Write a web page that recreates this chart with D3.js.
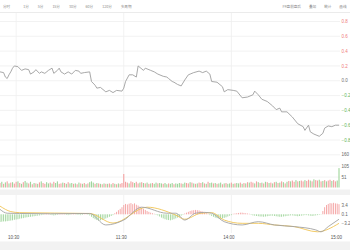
<!DOCTYPE html>
<html>
<head>
<meta charset="utf-8">
<script src="https://cdn.jsdelivr.net/npm/d3@7/dist/d3.min.js"></script>
<style>
  html, body { margin: 0; padding: 0; background: #fff; overflow: hidden; }
  svg { display: block; font-family: "Liberation Sans", "Noto Sans CJK SC", sans-serif; }
</style>
</head>
<body>
<svg id="chart" width="350" height="250"></svg>
<script>
// toolbar texts
const periodTabs = ['分时', '1分', '5分', '15分', '30分', '60分', '120分', '多周期'];
const toolLinks  = ['F9盘前盘后', '叠加', '统计', '画线'];

// minutes counted from 09:30 (11:30 and 13:00 share minute 120)
const timeTicks  = [60, 120, 180, 240];
const timeLabels = ['10:30', '11:30', '14:00', '15:00'];

// price line, % change against previous close
const priceMinutes = [51, 53, 54, 55, 56, 57, 58, 59, 61, 63, 65, 67, 68, 70, 71, 73, 74, 76, 78, 80, 81, 83, 84, 85, 87, 89, 91, 93, 95, 96, 98, 101,
                      102, 104, 105, 107, 110, 112, 114, 116, 119, 120, 121, 123, 125, 127, 128, 131, 132, 135, 137, 139, 142, 144, 145, 147,
                      148, 150, 152, 154, 156, 157, 159, 162, 164, 166, 168, 169, 172, 175, 176, 178, 181, 183, 186, 189, 192, 193, 195, 197,
                      200, 203, 205, 207, 208, 211, 214, 217, 220, 221, 223, 224, 226, 229, 231, 232, 234, 236, 238, 240];
const priceChange  = [0.12, 0.11, 0.05, 0.03, 0.08, 0.12, 0.17, 0.20, 0.19, 0.14, 0.16, 0.15, 0.09, 0.12, 0.15, 0.10, 0.12, 0.10, 0.14, 0.17, 0.10, 0.14, 0.17, 0.12, 0.09, 0.12, 0.09, 0.14, 0.13, 0.10, 0.11, 0.12,
                      -0.01, -0.06, -0.10, -0.09, -0.15, -0.13, -0.16, -0.13, -0.14, -0.10, -0.01, 0.08, 0.08, 0.05, 0.20, 0.14, 0.17, 0.14, 0.12, 0.09, 0.06, 0.05, 0.03, -0.01,
                      -0.02, -0.05, -0.07, 0.01, 0.08, 0.09, 0.11, 0.13, 0.11, 0.13, 0.09, -0.01, -0.02, -0.08, -0.15, -0.12, -0.13, -0.14, -0.23, -0.22, -0.19, -0.14, -0.19, -0.25,
                      -0.28, -0.34, -0.39, -0.37, -0.42, -0.42, -0.49, -0.58, -0.62, -0.67, -0.60, -0.69, -0.72, -0.75, -0.71, -0.64, -0.61, -0.62, -0.60, -0.60];
const priceTicks   = [0.8, 0.6, 0.4, 0.2, 0, -0.2, -0.4, -0.6, -0.8];

// one value per minute from minute 51, positive = up minute (red), negative = down minute (green)
const firstMinute = 51;
const volumes = [22, -28, 18, -25, 30, -20, 24, -26, 19, 28,
                 -30, 22, -18, 26, -32, -24, 20, -28, 16, -22,
                 20, -18, 25, -30, 22, 18, -26, -20, 24, -19,
                 28, -22, -30, 18, 20, -24, 22, -18, 26, -20,
                 -22, 18, -20, 16, -24, 20, -18, 22, -16, 20,
                 -26, -30, -24, 18, -22, 20, -18, 16, -20, 18,
                 -18, 20, -16, 22, -18, 16, -20, 18, 22, 66,
                 28, 24, -20, 30, 26, -22, 28, 20, -24, 26,
                 -22, 20, -24, 18, -20, 22, -18, -24, 20, -22,
                 -20, 18, -22, -16, 20, -18, -22, 16, -20, -18,
                 -22, 20, -18, -24, 22, 20, -26, 24, -20, 18,
                 -20, 24, 22, -26, 20, -18, 28, -22, -24, 20,
                 -22, 18, -20, -24, 16, -20, 22, -18, -20, 24,
                 -18, 20, -22, -20, 24, -18, 22, -20, 26, -24,
                 28, 24, -20, 30, -26, 22, -24, 20, -28, 26,
                 -22, 24, -20, 26, -28, 22, -24, 30, -26, 20,
                 -28, 32, -30, 34, 28, -36, 30, -32, 34, 30,
                 -36, 32, 38, -34, 30, -40, 36, 34, -38, 30,
                 -32, 36, -30, 34, 38, -32, 36, 30, -34, -95];
const volumeTicks = [160, 105, 51];

// MACD histogram, one bar per minute from minute 51
const macdBars = [-2.8, -2.7, -2.6, -2.6, -2.5, -2.4, -2.3, -2.2, -2.0, -1.9, -1.8, -1.6, -1.5, -1.4, -1.2, -1.1, -1.0, -0.9, -0.8, -0.7, -0.6, -0.5, -0.4,
                  -0.3, -0.2, 0.2, 0.3, 0.2, -0.2, -0.3, -0.4, -0.3, -0.2, 0.2, 0.3, 0.2, 0.2, -0.2, -0.3, -0.2, 0.2, 0.3, 0.2, -0.2, -0.2, -0.3, -0.2, 0.2, 0.2, -0.2,
                  -0.4, -0.9, -1.4, -1.8, -2.1, -2.3, -2.2, -2.0, -1.8, -1.5, -1.2, -0.9, -0.6, -0.3,
                  0.4, 0.9, 1.5, 2.0, 2.6, 3.4, 3.8, 3.6, 3.9, 4.1, 3.7, 4.0, 3.5, 3.2, 2.8, 2.4, 2.0, 1.6, 1.2, 0.9, 0.6, 0.4, 0.2, -0.2,
                  -0.4, -0.8, -1.2, -1.5, -1.8, -2.0, -2.1, -2.2, -2.0, -1.8, -1.5, -1.2, -0.9, -0.5, -0.2,
                  0.3, 0.6, 0.9, 1.2, 1.4, 1.5, 1.6, 1.5, 1.4, 1.2, 1.0, 0.7, 0.4, 0.2,
                  -0.3, -0.6, -0.9, -1.2, -1.4, -1.5, -1.6, -1.5, -1.3, -1.1, -0.8, -0.5, -0.3,
                  0.2, 0.3, 0.4, 0.5, 0.6, 0.6, 0.5, 0.4, 0.3, 0.2,
                  -0.2, -0.4, -0.5, -0.6, -0.7, -0.8, -0.8, -0.9, -0.8, -0.7, -0.6, -0.5, -0.5, -0.6, -0.7, -0.8, -0.9, -0.9, -0.8, -0.7,
                  -0.6, -0.5, -0.4, -0.4, -0.5, -0.6, -0.7, -0.6, -0.5, -0.4, -0.3, -0.3, -0.4, -0.5, -0.6, -0.5, -0.4, -0.3, -0.2, -0.1,
                  1.2, 2.6, 3.4, 3.8, 4.1, 4.0, 4.2, 4.0, 3.9, 3.7];
const difMinutes = [51, 55, 62, 79, 101, 110, 120, 130, 144, 149, 154, 160, 165, 169, 176, 186, 195, 204, 215, 227, 230, 234, 240];
const difValues  = [1.8, 0.4, 0.3, 0.2, 0.3, -3.9, -2.1, 2.6, 0.4, 0.4, -2.1, 0.4, 0.7, 0.4, -2.7, -3.9, -2.7, -3.9, -4.5, -5.7, -6.4, -4.5, -1.8];
const deaMinutes = [51, 57, 62, 101, 114, 133, 149, 154, 163, 169, 176, 186, 195, 204, 215, 228, 240];
const deaValues  = [3.0, 1.0, 0.6, 0.3, -3.2, 2.6, -0.3, -1.8, 0.4, 0.6, -2.1, -3.3, -3.3, -3.9, -4.5, -6.4, -3.3];
const macdTicks  = [3.4, 0.1, -3.2];

const upColor   = '#f4a2a2',
      downColor = '#9fd59b',
      gridColor = '#efefef',
      bandColor = '#f2f2f2';

let svg = d3.select('#chart');

// --- scales ---
let x      = d3.scaleLinear().domain([51, 240]).range([0, 339]),
    yPrice = d3.scaleLinear().domain([-0.8, 0.8]).range([140, 21.5]),
    yVol   = d3.scaleLinear().domain([0, 160]).range([187.5, 154.8]),
    yMacd  = d3.scaleLinear().domain([-6.6, 4.5]).range([232.35, 202]);

// --- toolbar ---
let bar = svg.append('g').attr('class', 'toolbar')
    .style('font-family', '"Noto Sans CJK SC", sans-serif')
    .style('font-size', '3.6px')
    .attr('fill', '#8a8a8a');

let cursor = 3;
periodTabs.forEach((t, i) => {
  let txt = bar.append('text').attr('x', cursor).attr('y', 7.6).text(t);
  cursor += txt.node().getComputedTextLength() + (i === 0 ? 13 : 9);
});

cursor = 346.5;
toolLinks.slice().reverse().forEach((t) => {
  let txt = bar.append('text').attr('x', cursor).attr('y', 7.6).attr('text-anchor', 'end').text(t);
  cursor -= txt.node().getComputedTextLength() + 8;
});

svg.append('line')
    .attr('x1', 0).attr('x2', 350).attr('y1', 12.5).attr('y2', 12.5)
    .attr('stroke', '#e6e6e6').attr('stroke-width', 0.8);

// --- grid ---
let grid = svg.append('g').attr('class', 'grid').attr('stroke', gridColor).attr('stroke-width', 0.8);

grid.selectAll('.hp').data(priceTicks).join('line')
    .attr('x1', 0).attr('x2', 340)
    .attr('y1', d => yPrice(d)).attr('y2', d => yPrice(d));

grid.selectAll('.hv').data(volumeTicks).join('line')
    .attr('x1', 0).attr('x2', 340)
    .attr('y1', d => yVol(d)).attr('y2', d => yVol(d));

grid.selectAll('.vt').data(timeTicks.slice(0, 3)).join('line')
    .attr('x1', d => x(d)).attr('x2', d => x(d))
    .attr('y1', 13).attr('y2', 233);

// separator bands
svg.append('rect').attr('x', 0).attr('y', 189.5).attr('width', 350).attr('height', 5.5).attr('fill', bandColor);
svg.append('rect').attr('x', 0).attr('y', 241.5).attr('width', 350).attr('height', 8.5).attr('fill', bandColor);

// --- price line ---
let pricePoints = priceMinutes.map((m, i) => [m, priceChange[i]]);
svg.append('path')
    .datum(pricePoints)
    .attr('fill', 'none')
    .attr('stroke', '#9e9e9e')
    .attr('stroke-width', 0.9)
    .attr('stroke-linejoin', 'round')
    .attr('d', d3.line().x(d => x(d[0])).y(d => yPrice(d[1])));

// --- volume bars ---
svg.append('g').selectAll('rect').data(volumes).join('rect')
    .attr('x', (d, i) => x(firstMinute + i) - 0.55)
    .attr('width', 1.1)
    .attr('y', d => yVol(Math.abs(d)))
    .attr('height', d => yVol(0) - yVol(Math.abs(d)))
    .attr('fill', d => d >= 0 ? upColor : downColor);

// --- MACD ---
svg.append('g').selectAll('rect').data(macdBars).join('rect')
    .attr('x', (d, i) => x(firstMinute + i) - 0.45)
    .attr('width', 0.9)
    .attr('y', d => yMacd(Math.max(0, d)))
    .attr('height', d => Math.abs(yMacd(d) - yMacd(0)))
    .attr('fill', d => d >= 0 ? upColor : downColor);

let macdLine = d3.line().curve(d3.curveMonotoneX).x(d => x(d[0])).y(d => yMacd(d[1]));

svg.append('path')
    .datum(deaMinutes.map((m, i) => [m, deaValues[i]]))
    .attr('fill', 'none').attr('stroke', '#f1c453').attr('stroke-width', 0.9)
    .attr('d', macdLine);

svg.append('path')
    .datum(difMinutes.map((m, i) => [m, difValues[i]]))
    .attr('fill', 'none').attr('stroke', '#a3a3a3').attr('stroke-width', 0.9)
    .attr('d', macdLine);

// --- right axis labels ---
let labels = svg.append('g').style('font-size', '4.5px');

labels.selectAll('.pl').data(priceTicks).join('text')
    .attr('x', 341.5).attr('y', d => yPrice(d) + 1.6)
    .attr('fill', d => d > 0 ? '#ef7b7b' : (d < 0 ? '#5fb45a' : '#707070'))
    .text(d => d3.format('.1f')(d));

labels.selectAll('.vl').data(volumeTicks).join('text')
    .attr('x', 341.5).attr('y', d => yVol(d) + 1.6)
    .attr('fill', '#666')
    .text(d => d);

labels.selectAll('.ml').data(macdTicks).join('text')
    .attr('x', 341.5).attr('y', d => yMacd(d) + 1.6)
    .attr('fill', '#666')
    .text(d => d3.format('.1f')(d));

// --- time axis ---
labels.selectAll('.tl').data(timeTicks).join('text')
    .attr('x', d => x(d) - 2.5).attr('y', 239)
    .attr('text-anchor', 'middle')
    .attr('fill', '#555')
    .text((d, i) => timeLabels[i]);
</script>
</body>
</html>
